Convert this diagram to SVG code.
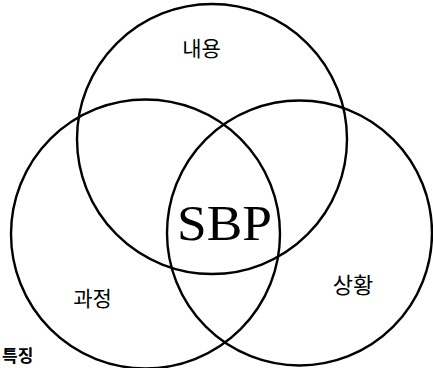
<svg xmlns="http://www.w3.org/2000/svg" width="433" height="368" viewBox="0 0 433 368">
<style>
.c{fill:none;stroke:#000;stroke-width:2.4}
.k{font-family:"Noto Sans CJK KR","Noto Sans",sans-serif;fill:#000}
.s{font-family:"Liberation Serif","Times New Roman",serif;fill:#000}
</style>
<rect width="433" height="368" fill="#fff"/>
<g id="circles">
<circle id="top" class="c" cx="212" cy="139" r="135"/>
<circle id="left" class="c" cx="145.5" cy="234" r="134.5"/>
<circle id="right" class="c" cx="299.5" cy="233" r="132.5"/>
</g>
<g id="labels">
<text class="k" x="201.5" y="56" font-size="21" text-anchor="middle">내용</text>
<text class="k" x="92.5" y="306" font-size="21" text-anchor="middle">과정</text>
<text class="k" x="353" y="293" font-size="22" text-anchor="middle">상황</text>
<text class="s" x="224.5" y="240" font-size="50" text-anchor="middle" textLength="95" lengthAdjust="spacingAndGlyphs">SBP</text>
<text class="k" x="2" y="362" font-size="17" font-weight="bold">특징</text>
</g>
</svg>
